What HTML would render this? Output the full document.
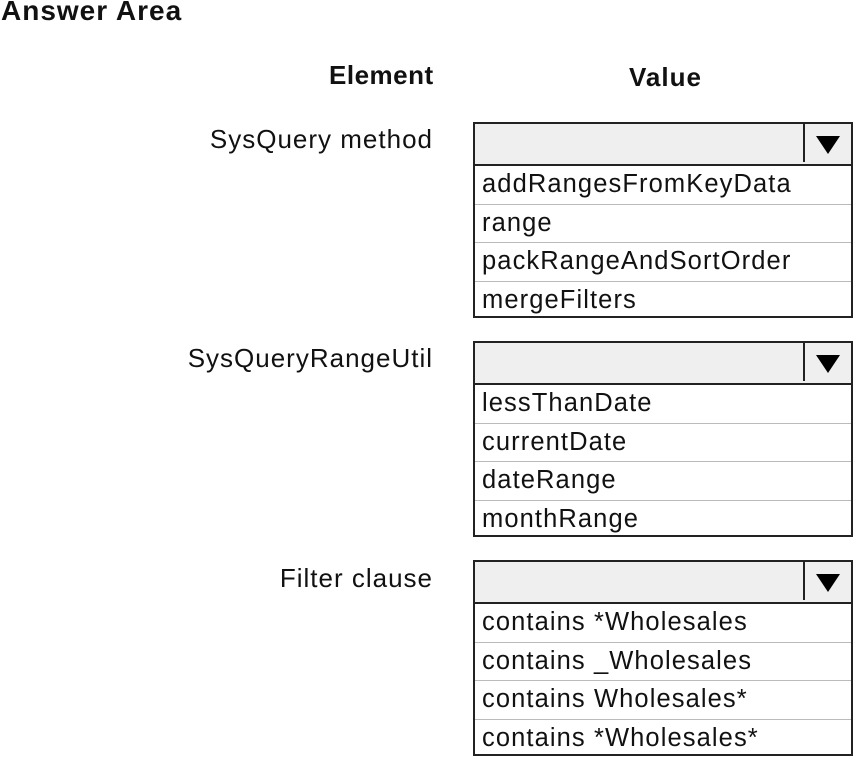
<!DOCTYPE html>
<html><head><style>
body{margin:0;width:854px;height:756px;background:#fff;position:relative;font-family:"Liberation Sans",sans-serif;color:#111;overflow:hidden}
.t{position:absolute;white-space:nowrap}
.box{position:absolute;left:473px;width:380px;border:2px solid #222;box-sizing:border-box}
.hd{height:40px;background:#efefef;border-bottom:2px solid #222;position:relative}
.hd .ar{position:absolute;right:0;top:0;width:46px;height:38px;border-left:2px solid #222}
.hd .ar:after{content:"";position:absolute;left:11px;top:12px;border-left:12px solid transparent;border-right:12px solid transparent;border-top:18px solid #000}
.r{height:38.5px;line-height:36px;font-size:25.5px;padding-left:7px;border-bottom:1px solid #bbb;box-sizing:border-box;letter-spacing:1.1px}
.r:last-child{border-bottom:none}
.lb{font-size:26px;right:421px;letter-spacing:1px}
</style></head><body>
<div class="t" style="left:1px;top:-5px;font-size:28px;font-weight:bold;letter-spacing:1px">Answer Area</div>
<div class="t" style="left:329px;top:60px;font-size:26px;font-weight:bold;letter-spacing:0.5px">Element</div>
<div class="t" style="left:629px;top:62px;font-size:26px;font-weight:bold;letter-spacing:1px">Value</div>

<div class="t lb" style="top:124px">SysQuery method</div>
<div class="box" style="top:122px;height:196px"><div class="hd"><div class="ar"></div></div>
<div class="r">addRangesFromKeyData</div><div class="r">range</div><div class="r">packRangeAndSortOrder</div><div class="r">mergeFilters</div></div>

<div class="t lb" style="top:343px">SysQueryRangeUtil</div>
<div class="box" style="top:341px;height:196px"><div class="hd"><div class="ar"></div></div>
<div class="r">lessThanDate</div><div class="r">currentDate</div><div class="r">dateRange</div><div class="r">monthRange</div></div>

<div class="t lb" style="top:563px">Filter clause</div>
<div class="box" style="top:560px;height:196px"><div class="hd"><div class="ar"></div></div>
<div class="r">contains *Wholesales</div><div class="r">contains _Wholesales</div><div class="r">contains Wholesales*</div><div class="r">contains *Wholesales*</div></div>
</body></html>
